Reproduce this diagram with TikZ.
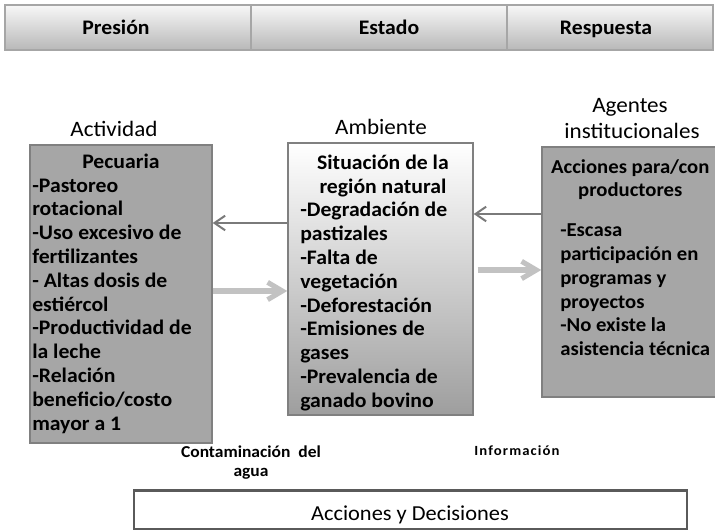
\documentclass[tikz,border=0pt]{standalone}
\usepackage{fontspec}
\setmainfont{Carlito}[FakeStretch=1.05]
\usetikzlibrary{arrows.meta,fit}
\definecolor{boxgray}{HTML}{A6A6A6}
\definecolor{edgegray}{HTML}{808080}
\definecolor{darkarrow}{HTML}{7A7A7A}
\definecolor{lightarrow}{HTML}{C2C2C2}
\definecolor{barbottom}{HTML}{B8B8B8}
\definecolor{midbottom}{HTML}{9E9E9E}
\definecolor{bottomedge}{HTML}{5A5A5A}
\newcommand{\ctrline}[2]{\makebox[#1][c]{#2}}
\begin{document}
\begin{tikzpicture}[x=0.75pt,y=-0.75pt,
  panel/.style={draw=edgegray, line width=1.1pt, fill=boxgray, inner sep=0pt},
  midpanel/.style={draw=edgegray, line width=1.1pt, top color=white, bottom color=midbottom, inner sep=0pt},
  barcell/.style={draw=gray!70, line width=0.8pt, top color=white!97!black, bottom color=barbottom, inner sep=0pt},
  boxtxt/.style={font=\fontsize{15.5}{17.85}\selectfont\bfseries, inner sep=0pt, align=left, anchor=north west},
  bartxt/.style={font=\fontsize{15.5}{17.85}\selectfont\bfseries, inner sep=0pt, anchor=base},
  head/.style={font=\fontsize{16.5}{18.75}\selectfont, inner sep=0pt, anchor=base},
  darkarr/.style={draw=darkarrow, line width=1.5pt, -{Straight Barb[length=8pt,width=11pt]}},
  lightarr/.style={draw=lightarrow, line width=3.8pt, -{Straight Barb[length=11pt,width=13pt]}},
]
\useasboundingbox (0,0) rectangle (715,530);

% top bar
\node (P) [barcell, fit={(5,5) (251,50)}] {};
\node (E) [barcell, fit={(251,5) (507,50)}] {};
\node (S) [barcell, fit={(507,5) (713,50)}] {};
\node (Pt) [bartxt] at (116,35) {Presión};
\node (Et) [bartxt] at (389,35) {Estado};
\node (St) [bartxt] at (606,35) {Respuesta};

% headings
\node (Lh) [head] at (114,137) {Actividad};
\node (Mh) [head] at (381,135) {Ambiente};
\node (Rh1) [head] at (630,113) {Agentes};
\node (Rh2) [head] at (632,139) {institucionales};

% boxes
\node (L) [panel, fit={(30,145) (212,443)}] {};
\node (M) [midpanel, fit={(288,143) (473,415)}] {};
\node (R) [panel, fit={(542,147) (718,397)}] {};

\node (Lt) [boxtxt] at (32,153.5) {\ctrline{133pt}{Pecuaria}\\
-Pastoreo\\
rotacional\\
-Uso excesivo de\\
fertilizantes\\
- Altas dosis de\\
estiércol\\
-Productividad de\\
la leche\\
-Relación\\
beneficio/costo\\
mayor a 1};

\node (Mt) [boxtxt] at (300,154.5) {\ctrline{124pt}{Situación de la}\\
\ctrline{124pt}{región natural}\\
-Degradación de\\
pastizales\\
-Falta de\\
vegetación\\
-Deforestación\\
-Emisiones de\\
gases\\
-Prevalencia de\\
ganado bovino};

\node (Rt) [boxtxt, font=\fontsize{14.8}{17.85}\selectfont\bfseries] at (560,159) {\ctrline{105pt}{Acciones para/con}\\
\ctrline{105pt}{productores}\\[12pt]
-Escasa\\
participación en\\
programas y\\
proyectos\\
-No existe la\\
asistencia técnica};

% arrows
\draw[darkarr] (M.west |- 0,223) -- (L.east |- 0,223);
\draw[lightarr] (L.east |- 0,291) -- (M.west |- 0,291);
\draw[darkarr] (R.west |- 0,214) -- (M.east |- 0,214);
\draw[lightarr, shorten <=3pt] (M.east |- 0,270) -- (R.west |- 0,270);

% bottom labels
\node (C) [font=\fontsize{12.5}{14.25}\selectfont\bfseries, inner sep=0pt, align=center, anchor=base] at (251,477) {Contaminación\ \ del\\agua};
\node (I) [font=\fontsize{10.5}{12}\selectfont\bfseries\addfontfeature{LetterSpace=8}, inner sep=0pt, anchor=base] at (517,456) {Información};

% bottom box
\node (D) [draw=bottomedge, line width=1.1pt, fill=white, inner sep=0pt, fit={(134,491) (687,529)}] {};
\draw[bottomedge, line width=2pt] (D.north west) -- (D.north east);
\node (Dt) [font=\fontsize{16}{18}\selectfont, inner sep=0pt, anchor=base] at (410,521) {Acciones y Decisiones};
\end{tikzpicture}
\end{document}
